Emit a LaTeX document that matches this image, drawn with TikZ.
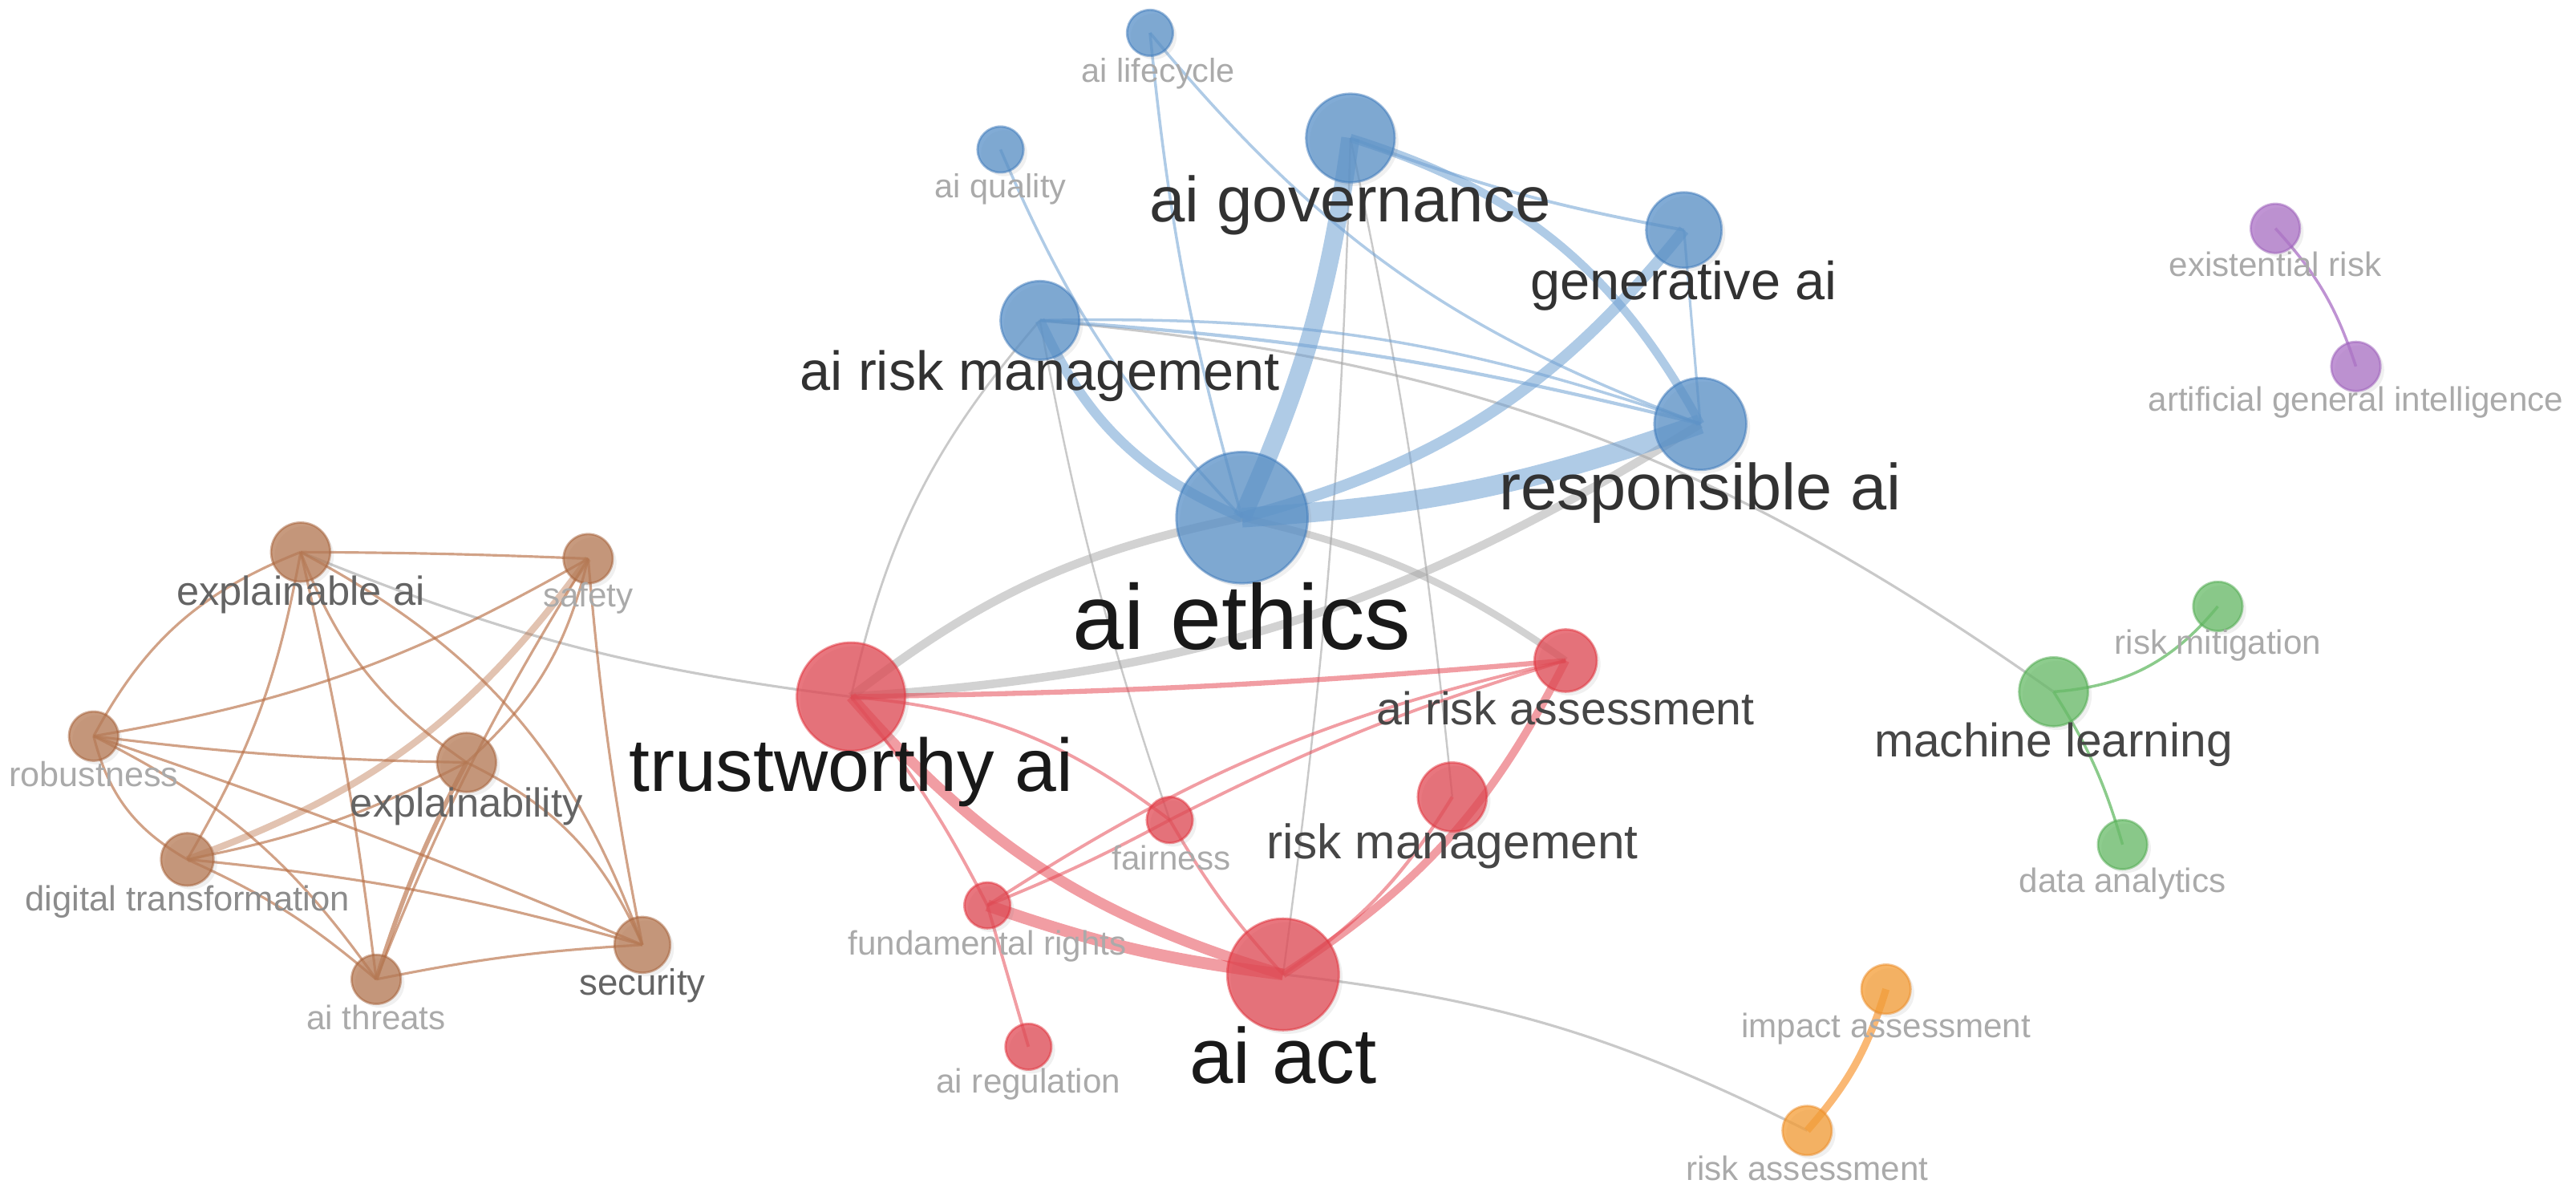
\documentclass[tikz,border=0pt]{standalone}
\usepackage{fontspec}
\setmainfont{Liberation Sans}
\usetikzlibrary{shadows}
\pgfdeclarelayer{edges}
\pgfsetlayers{edges,main}
\definecolor{nblue}{RGB}{90,145,200}
\definecolor{nblueD}{RGB}{60,120,185}
\definecolor{nred}{RGB}{225,75,85}
\definecolor{nredD}{RGB}{225,50,60}
\definecolor{nbrown}{RGB}{182,122,85}
\definecolor{nbrownD}{RGB}{165,95,55}
\definecolor{ngreen}{RGB}{105,188,105}
\definecolor{ngreenD}{RGB}{80,170,80}
\definecolor{npurple}{RGB}{172,115,198}
\definecolor{npurpleD}{RGB}{155,95,185}
\definecolor{norange}{RGB}{245,158,55}
\definecolor{norangeD}{RGB}{235,140,40}
\definecolor{eblue}{RGB}{110,160,210}
\definecolor{ered}{RGB}{228,60,72}
\definecolor{egray}{RGB}{165,165,165}
\definecolor{ebrown}{RGB}{185,112,70}
\definecolor{egreen}{RGB}{110,190,110}
\definecolor{epurple}{RGB}{175,120,200}
\definecolor{eorange}{RGB}{248,160,70}
\definecolor{lblack}{RGB}{25,25,25}
\definecolor{ldark}{RGB}{50,50,50}
\definecolor{lmid}{RGB}{70,70,70}
\definecolor{lmid2}{RGB}{100,100,100}
\definecolor{llight}{RGB}{140,140,140}
\definecolor{lpale}{RGB}{170,170,170}
\tikzset{
  kw/.style={circle, inner sep=0pt, minimum size=#1*0.04097cm, fill opacity=0.76,
    draw opacity=0.5, line width=0.8pt,
    drop shadow={opacity=0.12, shadow xshift=1.3pt, shadow yshift=-1.3pt}},
  bnode/.style={kw=#1, fill=nblue, draw=nblueD},
  rnode/.style={kw=#1, fill=nred, draw=nredD},
  brnode/.style={kw=#1, fill=nbrown, draw=nbrownD},
  gnode/.style={kw=#1, fill=ngreen, draw=ngreenD},
  pnode/.style={kw=#1, fill=npurple, draw=npurpleD},
  onode/.style={kw=#1, fill=norange, draw=norangeD},
  lab/.style n args={2}{inner sep=0pt, text=#2, font=\fontsize{#1}{#1}\selectfont},
  eb/.style={draw=eblue, line width=#1, draw opacity=0.55},
  er/.style={draw=ered, line width=#1, draw opacity=0.5},
  eg/.style={draw=egray, line width=#1, draw opacity=0.5},
  egt/.style={draw=egray, line width=#1, draw opacity=0.6},
  ebr/.style={draw=ebrown, line width=#1, draw opacity=0.65},
}
\begin{document}
\begin{tikzpicture}[x=0.020485cm, y=0.020485cm]
\useasboundingbox (0,0) rectangle (1568,725);
% ---------- nodes ----------
% blue
\node[bnode=14] (lif)  at (700,705) {};
\node[bnode=14] (qual) at (609,634) {};
\node[bnode=27] (gov)  at (822,641) {};
\node[bnode=23] (gen)  at (1025,585) {};
\node[bnode=24] (airm) at (633,530) {};
\node[bnode=28] (resp) at (1035,467) {};
\node[bnode=40] (eth)  at (756,410) {};
% red
\node[rnode=33] (trust) at (518,301) {};
\node[rnode=19] (ara)   at (953,323) {};
\node[rnode=21] (riskm) at (884,240) {};
\node[rnode=14] (fair)  at (712,226) {};
\node[rnode=14] (fund)  at (601,174) {};
\node[rnode=34] (act)   at (781,132) {};
\node[rnode=14] (areg)  at (626,88) {};
% brown
\node[brnode=18] (xai)  at (183,389) {};
\node[brnode=15] (safe) at (358,385) {};
\node[brnode=15] (rob)  at (57,277) {};
\node[brnode=18] (expl) at (284,261) {};
\node[brnode=16] (digi) at (114,202) {};
\node[brnode=15] (thr)  at (229,129) {};
\node[brnode=17] (sec)  at (391,150) {};
% purple
\node[pnode=15] (exr) at (1385,586) {};
\node[pnode=15] (agi) at (1434,502) {};
% green
\node[gnode=15] (rmit) at (1350,356) {};
\node[gnode=21] (ml)   at (1250,304) {};
\node[gnode=15] (dan)  at (1292,211) {};
% orange
\node[onode=15] (ima) at (1148,123) {};
\node[onode=15] (ras) at (1100,37) {};

% ---------- edges ----------
\begin{pgfonlayer}{edges}
% gray (between clusters)
\draw[egt=0.9pt] (airm.center) to[bend left=15] (ml.center);
\draw[egt=0.8pt] (airm.center) to[bend right=14] (trust.center);
\draw[egt=0.7pt] (airm.center) to[bend right=4] (fair.center);
\draw[egt=0.7pt] (gov.center) to[bend left=3] (act.center);
\draw[egt=0.7pt] (gov.center) to[bend left=3] (riskm.center);
\draw[eg=3pt] (trust.center) to[bend left=13] (eth.center);
\draw[eg=3pt] (trust.center) to[bend right=14] (resp.center);
\draw[eg=2.5pt] (eth.center) to[bend left=11] (ara.center);
\draw[egt=0.9pt] (xai.center) to[bend right=7.5] (trust.center);
\draw[egt=0.9pt] (act.center) to[bend left=10] (ras.center);
% blue
\draw[eb=6.5pt] (eth.center) to[bend right=8] (gov.center);
\draw[eb=7pt] (eth.center) to[bend right=8] (resp.center);
\draw[eb=4pt] (eth.center) to[bend right=18] (gen.center);
\draw[eb=3.5pt] (eth.center) to[bend left=21] (airm.center);
\draw[eb=3pt] (gov.center) to[bend left=22] (resp.center);
\draw[eb=1.1pt] (gov.center) to[bend right=5] (gen.center);
\draw[eb=0.9pt] (gen.center) -- (resp.center);
\draw[eb=1.2pt] (airm.center) to[bend left=5] (resp.center);
\draw[eb=1pt] (airm.center) to[bend left=10] (resp.center);
\draw[eb=1pt] (lif.center) to[bend right=15] (resp.center);
\draw[eb=1pt] (lif.center) to[bend right=5] (eth.center);
\draw[eb=1pt] (qual.center) to[bend right=10] (eth.center);
% red
\draw[er=1.8pt] (trust.center) to[bend right=2] (ara.center);
\draw[er=1.1pt] (trust.center) to[bend left=16] (fair.center);
\draw[er=1.1pt] (fair.center) to[bend right=6] (act.center);
\draw[er=3.8pt] (trust.center) to[bend right=16] (act.center);
\draw[er=1.1pt] (trust.center) to[bend left=6] (fund.center);
\draw[er=1.1pt] (fund.center) -- (areg.center);
\draw[er=4.2pt] (fund.center) to[bend right=6] (act.center);
\draw[er=1.1pt] (fund.center) to[bend left=10] (ara.center);
\draw[er=1.1pt] (fund.center) to[bend right=3] (fair.center);
\draw[er=1.1pt] (fair.center) to[bend left=5] (ara.center);
\draw[er=2.8pt] (ara.center) to[bend left=15] (act.center);
\draw[er=1.2pt] (riskm.center) to[bend left=12] (act.center);
% brown
\draw[ebr=0.9pt] (xai.center) to[bend right=20] (rob.center);
\draw[ebr=0.9pt] (xai.center) to[bend left=10] (digi.center);
\draw[ebr=0.9pt] (xai.center) to[bend left=3] (thr.center);
\draw[ebr=0.9pt] (xai.center) to[bend right=17] (expl.center);
\draw[ebr=0.9pt] (xai.center) to[bend left=21] (sec.center);
\draw[ebr=0.9pt] (xai.center) to[bend left=1] (safe.center);
\draw[ebr=0.9pt] (rob.center) to[bend right=3] (expl.center);
\draw[ebr=0.9pt] (rob.center) to[bend right=10] (safe.center);
\draw[ebr=0.9pt] (rob.center) to[bend right=23] (digi.center);
\draw[ebr=0.9pt] (rob.center) to[bend left=14] (thr.center);
\draw[ebr=0.9pt] (rob.center) to[bend left=2] (sec.center);
\draw[ebr=2.4pt, draw opacity=0.42] (safe.center) to[bend left=17] (digi.center);
\draw[ebr=0.9pt] (safe.center) to[bend left=17] (expl.center);
\draw[ebr=0.9pt] (safe.center) to[bend right=5] (thr.center);
\draw[ebr=0.9pt] (safe.center) to[bend right=3] (sec.center);
\draw[ebr=1.6pt] (expl.center) to[bend right=5] (thr.center);
\draw[ebr=0.9pt] (expl.center) to[bend left=20] (sec.center);
\draw[ebr=0.9pt] (digi.center) to[bend right=8] (expl.center);
\draw[ebr=0.9pt] (digi.center) to[bend left=8] (thr.center);
\draw[ebr=0.9pt] (digi.center) to[bend left=5] (sec.center);
\draw[ebr=0.9pt] (thr.center) to[bend left=4] (sec.center);
% green, purple, orange
\draw[draw=egreen, line width=1pt, draw opacity=0.8] (ml.center) to[bend right=23] (rmit.center);
\draw[draw=egreen, line width=1pt, draw opacity=0.8] (ml.center) to[bend left=8] (dan.center);
\draw[draw=epurple, line width=1pt, draw opacity=0.8] (exr.center) to[bend left=12] (agi.center);
\draw[draw=eorange, line width=2.6pt, draw opacity=0.75] (ima.center) to[bend left=12] (ras.center);
\end{pgfonlayer}

% ---------- labels ----------
\node[lab={11.8pt}{lpale}]  (lifL)   at (705,680) {ai lifecycle};
\node[lab={11.8pt}{lpale}]  (qualL)  at (609,610) {ai quality};
\node[lab={22.7pt}{ldark}]  (govL)   at (822,600) {ai governance};
\node[lab={19pt}{ldark}]    (genL)   at (1025,551) {generative ai};
\node[lab={19.5pt}{ldark}]  (airmL)  at (633,496) {ai risk management};
\node[lab={23.1pt}{ldark}]  (respL)  at (1035,425) {responsible ai};
\node[lab={32.7pt}{lblack}] (ethL)   at (756,350) {ai ethics};
\node[lab={26.5pt}{lblack}] (trustL) at (518,255) {trustworthy ai};
\node[lab={16.3pt}{lmid}]   (araL)   at (953,294) {ai risk assessment};
\node[lab={17.2pt}{lmid}]   (riskmL) at (884,210) {risk management};
\node[lab={12pt}{lpale}]    (fairL)  at (713,203) {fairness};
\node[lab={12pt}{lpale}]    (fundL)  at (601,149) {fundamental rights};
\node[lab={27.8pt}{lblack}] (actL)   at (781,83) {ai act};
\node[lab={12pt}{lpale}]    (aregL)  at (626,65) {ai regulation};
\node[lab={14.4pt}{lmid2}]  (xaiL)   at (183,363) {explainable ai};
\node[lab={12pt}{lpale}]    (safeL)  at (358,361) {safety};
\node[lab={12.3pt}{lpale}]  (robL)   at (57,254) {robustness};
\node[lab={14.4pt}{lmid2}]  (explL)  at (284,234) {explainability};
\node[lab={12.4pt}{llight}] (digiL)  at (114,176) {digital transformation};
\node[lab={12pt}{lpale}]    (thrL)   at (229,106) {ai threats};
\node[lab={13pt}{lmid2}]    (secL)   at (391,125) {security};
\node[lab={12pt}{lpale}]    (exrL)   at (1385,564) {existential risk};
\node[lab={12pt}{lpale}]    (agiL)   at (1434,480) {artificial general intelligence};
\node[lab={12pt}{lpale}]    (rmitL)  at (1350,332) {risk mitigation};
\node[lab={16.7pt}{lmid}]   (mlL)    at (1250,272) {machine learning};
\node[lab={12pt}{lpale}]    (danL)   at (1292,187) {data analytics};
\node[lab={12pt}{lpale}]    (imaL)   at (1148,99) {impact assessment};
\node[lab={12pt}{lpale}]    (rasL)   at (1100,14) {risk assessment};
\end{tikzpicture}
\end{document}
